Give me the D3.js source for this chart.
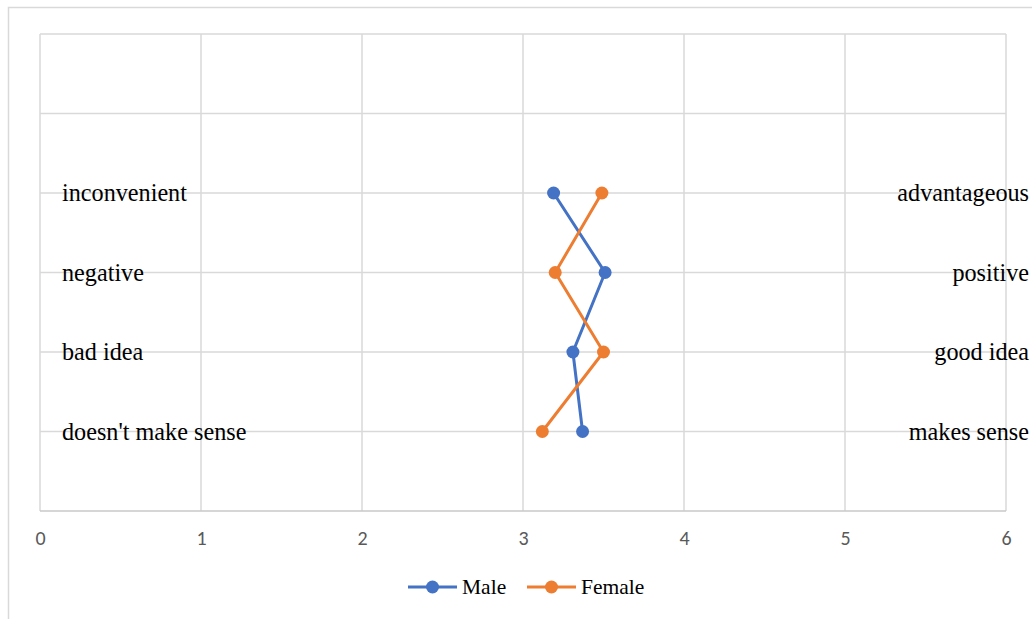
<!DOCTYPE html>
<html><head><meta charset="utf-8">
<script src="https://cdn.jsdelivr.net/npm/d3@7"></script>
<style>body{margin:0;background:#fff}svg{display:block}</style>
</head><body>
<svg id="c" width="1032" height="619"></svg>
<script>
const leftLabels = ["inconvenient", "negative", "bad idea", "doesn't make sense"];
const rightLabels = ["advantageous", "positive", "good idea", "makes sense"];
const rowPositions = [4, 3, 2, 1];
const maleValues = [3.19, 3.51, 3.31, 3.37];
const femaleValues = [3.49, 3.20, 3.50, 3.12];
const xTicks = [0, 1, 2, 3, 4, 5, 6];
const yTicks = [0, 1, 2, 3, 4, 5, 6];
const seriesNames = ["Male", "Female"];
const seriesColors = ["#4472C4", "#ED7D31"];

const svg = d3.select("#c");
const W = 1032, H = 619;
const x = d3.scaleLinear().domain([0, 6]).range([40, 1006]);
const y = d3.scaleLinear().domain([0, 6]).range([511, 34]);
const grid = "#d9d9d9";

// outer chart border
svg.append("path").attr("d", `M8.5,${H} V7.5 H${W}`).attr("fill", "none").attr("stroke", grid).attr("stroke-width", 1.5);

// gridlines
svg.append("g").selectAll("line").data(xTicks).join("line")
  .attr("x1", d => x(d)).attr("x2", d => x(d)).attr("y1", y(6)).attr("y2", y(0))
  .attr("stroke", grid).attr("stroke-width", 1.5);
svg.append("g").selectAll("line").data(yTicks).join("line")
  .attr("x1", x(0)).attr("x2", x(6)).attr("y1", d => y(d)).attr("y2", d => y(d))
  .attr("stroke", d => d === 0 ? "#c8c8c8" : grid).attr("stroke-width", 1.5);

// x axis labels
const xAxis = d3.axisBottom(x).tickValues(xTicks).tickSize(0).tickPadding(20).tickFormat(d3.format("d"));
const gx = svg.append("g").attr("transform", `translate(0,${y(0)})`).call(xAxis);
gx.select(".domain").remove();
gx.selectAll("text").attr("fill", "#595959").style("font-family", "Carlito, 'Liberation Sans', Arial, sans-serif").style("font-size", "20px");

// category labels
const serif = "'Liberation Serif', 'Times New Roman', serif";
svg.append("g").selectAll("text").data(leftLabels).join("text")
  .attr("x", 62).attr("y", (d, i) => y(rowPositions[i]) + 8)
  .attr("font-family", serif).attr("font-size", 24.2).attr("fill", "#000").text(d => d);
svg.append("g").selectAll("text").data(rightLabels).join("text")
  .attr("x", 1029).attr("y", (d, i) => y(rowPositions[i]) + 8).attr("text-anchor", "end")
  .attr("font-family", serif).attr("font-size", 24.2).attr("fill", "#000").text(d => d);

// series
const series = [maleValues, femaleValues];
const line = d3.line().x(d => x(d[0])).y(d => y(d[1]));
series.forEach((vals, si) => {
  const pts = vals.map((v, i) => [v, rowPositions[i]]);
  svg.append("path").datum(pts).attr("d", line).attr("fill", "none")
    .attr("stroke", seriesColors[si]).attr("stroke-width", 3).attr("stroke-linejoin", "round");
  svg.append("g").selectAll("circle").data(pts).join("circle")
    .attr("cx", d => x(d[0])).attr("cy", d => y(d[1])).attr("r", 6.5).attr("fill", seriesColors[si]);
});

// legend
const legX = [408, 527];
const lg = svg.append("g");
seriesNames.forEach((n, i) => {
  const g = lg.append("g").attr("transform", `translate(${legX[i]},587)`);
  g.append("line").attr("x1", 0).attr("x2", 49).attr("stroke", seriesColors[i]).attr("stroke-width", 3);
  g.append("circle").attr("cx", 24.5).attr("r", 6.5).attr("fill", seriesColors[i]);
  g.append("text").attr("x", 54).attr("y", 7).attr("font-family", serif).attr("font-size", 21.5).attr("fill", "#000").text(n);
});
</script>
</body></html>
